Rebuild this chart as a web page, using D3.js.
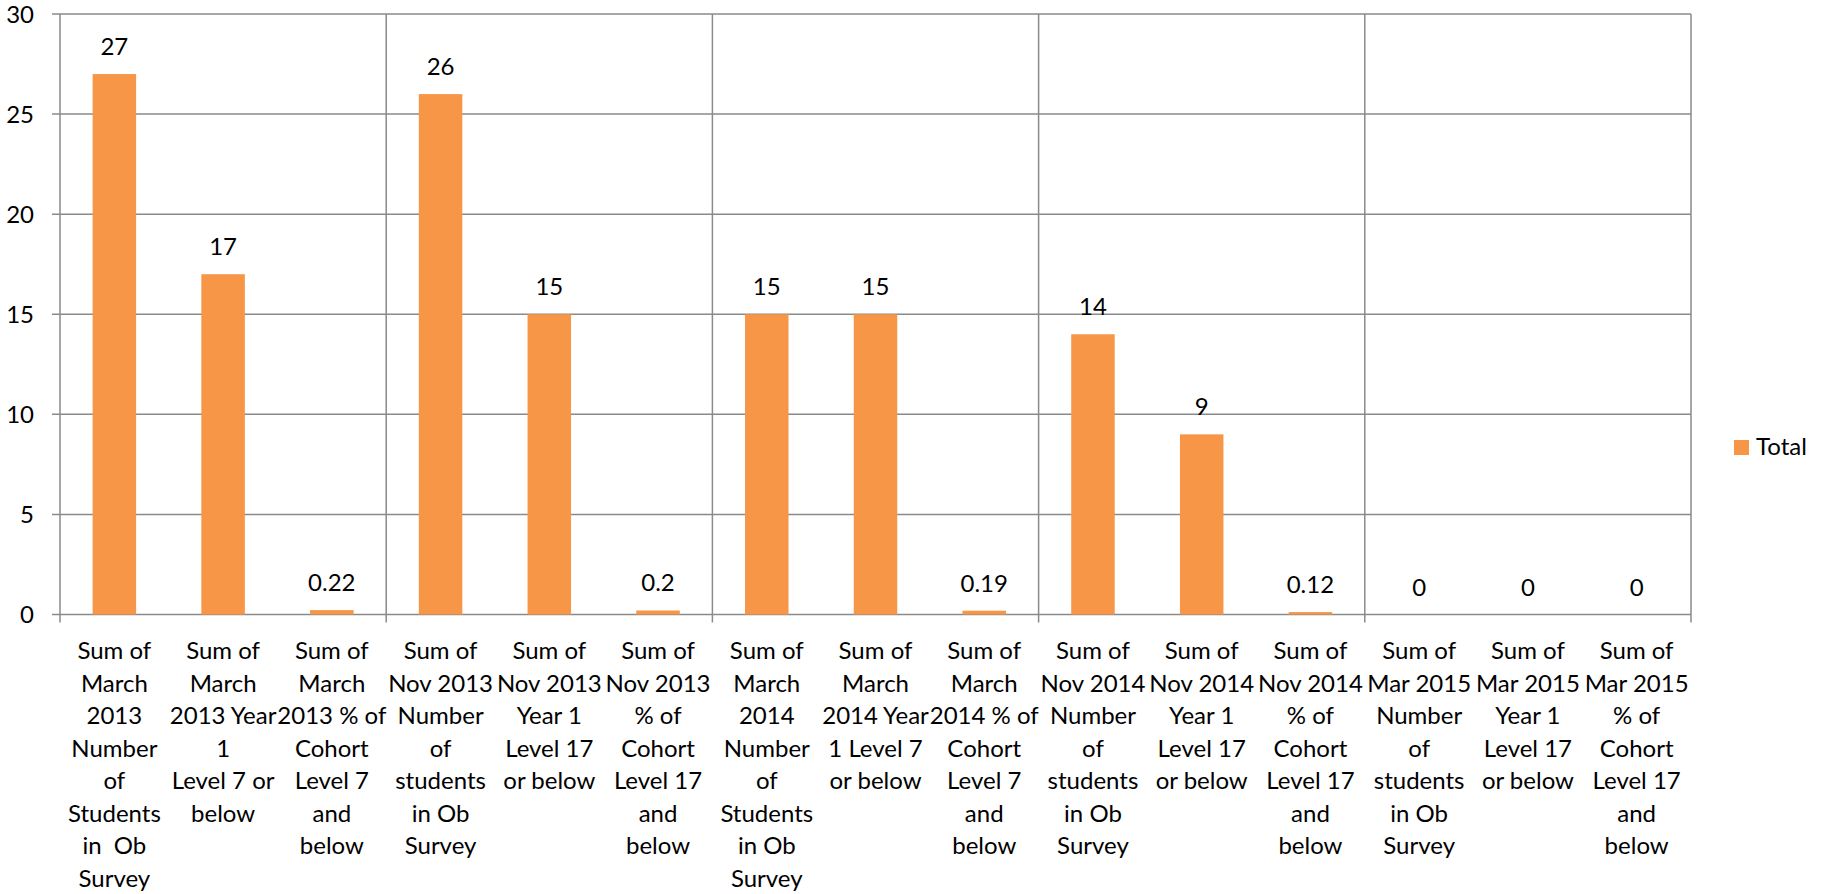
<!DOCTYPE html>
<html>
<head>
<meta charset="utf-8">
<script src="https://cdn.jsdelivr.net/npm/d3@7"></script>
<style>
  html, body { margin: 0; padding: 0; background: #fff; }
  svg { display: block; }
  text { font-family: Lato, "Noto Sans", sans-serif; fill: #000; }
</style>
</head>
<body>
<svg id="chart" width="1829" height="894"></svg>
<script>
// category labels, line breaks as in the original chart
const categories = [
  "Sum of|March|2013|Number|of|Students|in  Ob|Survey",
  "Sum of|March|2013 Year|1|Level 7 or|below",
  "Sum of|March|2013 % of|Cohort|Level 7|and|below",
  "Sum of|Nov 2013|Number|of|students|in Ob|Survey",
  "Sum of|Nov 2013|Year 1|Level 17|or below",
  "Sum of|Nov 2013|% of|Cohort|Level 17|and|below",
  "Sum of|March|2014|Number|of|Students|in Ob|Survey",
  "Sum of|March|2014 Year|1 Level 7|or below",
  "Sum of|March|2014 % of|Cohort|Level 7|and|below",
  "Sum of|Nov 2014|Number|of|students|in Ob|Survey",
  "Sum of|Nov 2014|Year 1|Level 17|or below",
  "Sum of|Nov 2014|% of|Cohort|Level 17|and|below",
  "Sum of|Mar 2015|Number|of|students|in Ob|Survey",
  "Sum of|Mar 2015|Year 1|Level 17|or below",
  "Sum of|Mar 2015|% of|Cohort|Level 17|and|below"
];
const totals = [27, 17, 0.22, 26, 15, 0.2, 15, 15, 0.19, 14, 9, 0.12, 0, 0, 0];
const yTicks = [0, 5, 10, 15, 20, 25, 30];
const seriesName = "Total";

const barColor = "#F79646";
const gridColor = "#8a8a8a";

const svg = d3.select("#chart");
const margin = { left: 60, top: 14, right: 1829 - 1691, bottom: 894 - 614.5 };
const W = 1829 - margin.left - margin.right;
const H = 894 - margin.top - margin.bottom;

const g = svg.append("g").attr("transform", `translate(${margin.left},${margin.top})`);

const x = d3.scaleBand()
  .domain(d3.range(categories.length))
  .range([0, W])
  .paddingInner(0.6)
  .paddingOuter(0.3);

const y = d3.scaleLinear().domain([0, 30]).range([H, 0]);

// horizontal gridlines
g.append("g")
  .selectAll("line")
  .data(yTicks)
  .join("line")
  .attr("x1", -8)
  .attr("x2", W)
  .attr("y1", d => y(d))
  .attr("y2", d => y(d))
  .attr("stroke", gridColor)
  .attr("stroke-width", 1.5);

// vertical gridlines every 3 categories
const step = x.step();
const groupEdges = d3.range(0, categories.length + 1, 3).map(i => i * step);
g.append("g")
  .selectAll("line")
  .data(groupEdges)
  .join("line")
  .attr("x1", d => d)
  .attr("x2", d => d)
  .attr("y1", 0)
  .attr("y2", H + 8)
  .attr("stroke", gridColor)
  .attr("stroke-width", 1.5);

// y tick labels
g.append("g")
  .selectAll("text")
  .data(yTicks)
  .join("text")
  .attr("x", -26)
  .attr("y", d => y(d))
  .attr("dy", "0.36em")
  .attr("text-anchor", "end")
  .attr("font-size", 24)
  .text(d => d);

// bars
g.append("g")
  .selectAll("rect")
  .data(totals)
  .join("rect")
  .attr("x", (d, i) => x(i))
  .attr("y", d => y(d))
  .attr("width", x.bandwidth())
  .attr("height", d => H - y(d))
  .attr("fill", barColor);

// value labels
g.append("g")
  .selectAll("text")
  .data(totals)
  .join("text")
  .attr("x", (d, i) => x(i) + x.bandwidth() / 2)
  .attr("y", d => y(d) - 19)
  .attr("text-anchor", "middle")
  .attr("font-size", 24)
  .text(d => d);

// category labels
const lineH = 32.5;
const catG = g.append("g")
  .selectAll("text")
  .data(categories)
  .join("text")
  .attr("text-anchor", "middle")
  .attr("font-size", 24)
  .attr("transform", (d, i) => `translate(${x(i) + x.bandwidth() / 2},${H + 44.5})`);
catG.selectAll("tspan")
  .data(d => d.split("|"))
  .join("tspan")
  .attr("x", 0)
  .attr("y", (d, i) => i * lineH)
  .attr("xml:space", "preserve")
  .style("white-space", "pre")
  .text(d => d);

// legend
const legend = svg.append("g").attr("transform", "translate(1734,440)");
legend.append("rect")
  .attr("width", 15)
  .attr("height", 15)
  .attr("fill", barColor);
legend.append("text")
  .attr("x", 22)
  .attr("y", 14.5)
  .attr("font-size", 24)
  .text(seriesName);
</script>
</body>
</html>
